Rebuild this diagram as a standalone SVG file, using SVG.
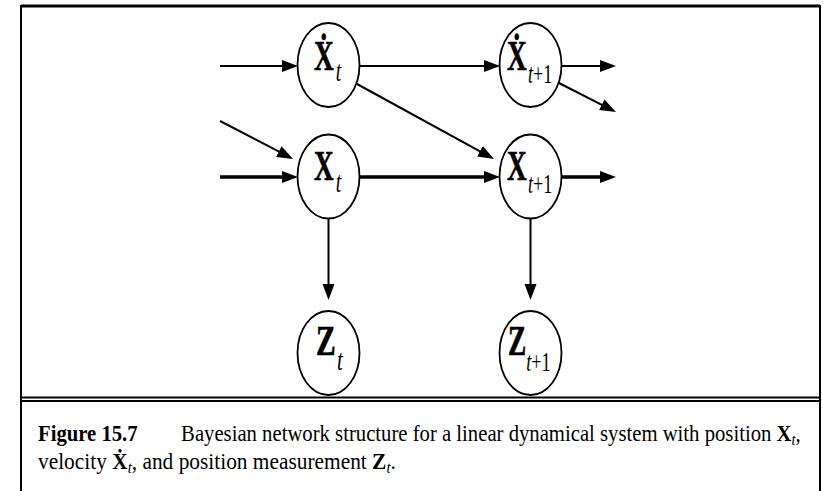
<svg xmlns="http://www.w3.org/2000/svg" width="823" height="491" viewBox="0 0 823 491">
<style>
  .node ellipse { fill: #fff; stroke: #000; stroke-width: 1.8; }
  .lbl { font-family: "Liberation Serif", "DejaVu Serif", serif; font-weight: bold; font-size: 42px; fill: #000; stroke: #000; stroke-width: 0.7; }
  .sub { font-weight: normal; font-style: italic; font-size: 30px; stroke: none; }
  .sub2 { font-size: 28px; }
  .subr { font-style: normal; }
  .thin { stroke: #000; stroke-width: 2; fill: none; marker-end: url(#ah); }
  .thick { stroke: #000; stroke-width: 3.4; fill: none; marker-end: url(#ah); }
  .cap { font-family: "Liberation Serif", "DejaVu Serif", serif; font-size: 23px; fill: #000; }
  .capb { font-weight: bold; }
  .capi { font-style: italic; font-size: 16px; }
  .frame { stroke: #000; fill: none; }
</style>
<defs>
  <marker id="ah" markerUnits="userSpaceOnUse" markerWidth="18" markerHeight="14" refX="10" refY="6" orient="auto">
    <path d="M0,0 L16,6 L0,12 z" fill="#000"/>
  </marker>
</defs>
<rect width="823" height="491" fill="#fff"/>
<g id="frame">
  <line class="frame" x1="21" y1="6" x2="820" y2="6" stroke-width="3"/>
  <line class="frame" x1="21" y1="5" x2="21" y2="491" stroke-width="2"/>
  <line class="frame" x1="820" y1="5" x2="820" y2="491" stroke-width="2"/>
  <line class="frame" x1="21" y1="397.5" x2="820" y2="397.5" stroke-width="2"/>
  <line class="frame" x1="21" y1="401" x2="820" y2="401" stroke-width="2"/>
</g>
<g id="connectors">
  <path class="thin" d="M220,66 L292,66"/>
  <path class="thin" d="M359,66 L494,66"/>
  <path class="thin" d="M562,66 L610,66"/>
  <path class="thin" d="M557,82 L610.7,109.3"/>
  <path class="thin" d="M220,121 L287.7,156.2"/>
  <path class="thick" d="M220,177 L292,177"/>
  <path class="thin" d="M357,84 L488.7,156.1"/>
  <path class="thick" d="M359,177 L494,177"/>
  <path class="thick" d="M562,177 L610,177"/>
  <path class="thin" d="M328.5,219 L328.5,294"/>
  <path class="thin" d="M530.5,219 L530.5,294"/>
</g>
<g id="node-xdot-t" class="node">
  <ellipse cx="328.5" cy="65" rx="31" ry="42"/>
  <text class="lbl" transform="translate(314,70) scale(0.65,1)">Ẋ<tspan class="sub" dx="3" dy="11">t</tspan></text>
</g>
<g id="node-xdot-t1" class="node">
  <ellipse cx="530.5" cy="65" rx="31" ry="42"/>
  <text class="lbl" transform="translate(507,70) scale(0.65,1)">Ẋ<tspan class="sub sub2" dx="2" dy="13">t<tspan class="subr">+1</tspan></tspan></text>
</g>
<g id="node-x-t" class="node">
  <ellipse cx="328.5" cy="176.5" rx="31" ry="42"/>
  <text class="lbl" transform="translate(314,180) scale(0.65,1)">X<tspan class="sub" dx="3" dy="12">t</tspan></text>
</g>
<g id="node-x-t1" class="node">
  <ellipse cx="530.5" cy="176.5" rx="31" ry="42"/>
  <text class="lbl" transform="translate(507,180) scale(0.65,1)">X<tspan class="sub sub2" dx="2" dy="13">t<tspan class="subr">+1</tspan></tspan></text>
</g>
<g id="node-z-t" class="node">
  <ellipse cx="328.5" cy="353" rx="31" ry="42"/>
  <text class="lbl" transform="translate(316,355) scale(0.7,1)">Z<tspan class="sub" dx="2" dy="15">t</tspan></text>
</g>
<g id="node-z-t1" class="node">
  <ellipse cx="530.5" cy="353" rx="31" ry="42"/>
  <text class="lbl" transform="translate(508,355) scale(0.65,1)">Z<tspan class="sub sub2" dx="0" dy="16">t<tspan class="subr">+1</tspan></tspan></text>
</g>
<g id="caption">
  <text class="cap" transform="translate(38,441) scale(0.9,1)"><tspan class="capb">Figure 15.7</tspan><tspan x="159">Bayesian network structure for a linear dynamical system with position </tspan><tspan class="capb">X</tspan><tspan class="capi" dy="4">t</tspan><tspan dy="-4">,</tspan></text>
  <text class="cap" transform="translate(38,469) scale(0.93,1)">velocity <tspan class="capb">Ẋ</tspan><tspan class="capi" dy="4">t</tspan><tspan dy="-4">, and position measurement </tspan><tspan class="capb">Z</tspan><tspan class="capi" dy="4">t</tspan><tspan dy="-4">.</tspan></text>
</g>
</svg>
